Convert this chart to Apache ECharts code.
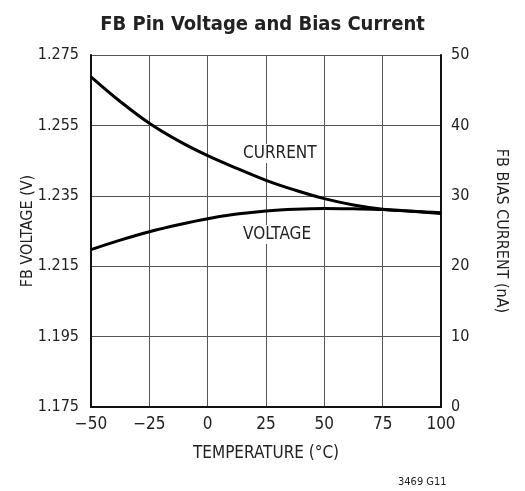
<!DOCTYPE html>
<html>
<head>
<meta charset="utf-8">
<script src="https://cdn.jsdelivr.net/npm/echarts@6/dist/echarts.min.js"></script>
<style>
  html, body { margin: 0; padding: 0; background: #fff; }
  #chart { width: 525px; height: 491px; }
</style>
</head>
<body>
<div id="chart"></div>
<script>
// temperature (°C)
const temps = [-50, -37.5, -25, -12.5, 0, 12.5, 25, 37.5, 50, 62.5, 75, 87.5, 100]
// FB pin voltage (V), left axis
const voltage = [1.2197, 1.2224, 1.2248, 1.2268, 1.2285, 1.2298, 1.2307, 1.2312, 1.2314, 1.2313, 1.2311, 1.2306, 1.2300]
// FB bias current (nA), right axis
const current = [46.9, 43.4, 40.3, 37.8, 35.7, 33.9, 32.2, 30.8, 29.6, 28.7, 28.1, 27.8, 27.6]

const font = "'DejaVu Sans Condensed', 'Liberation Sans Narrow', 'Liberation Sans', sans-serif"
const chart = echarts.init(document.getElementById('chart'))

const option = {
  animation: false,
  title: {
    text: 'FB Pin Voltage and Bias Current',
    left: 'center',
    top: 10,
    textStyle: { fontFamily: font, fontSize: 20, fontWeight: 'bold', color: '#222' }
  },
  grid: { left: 91, right: 84, top: 55, bottom: 84, containLabel: false },
  xAxis: {
    type: 'value',
    min: -50,
    max: 100,
    interval: 25,
    name: 'TEMPERATURE (°C)',
    nameLocation: 'middle',
    nameGap: 38,
    nameTextStyle: { fontFamily: font, fontSize: 17, color: '#222' },
    axisLine: { show: true, onZero: false, lineStyle: { color: '#111', width: 2 } },
    axisTick: { show: false },
    axisLabel: {
      fontFamily: font, fontSize: 17, color: '#222', margin: 9,
      formatter: v => String(v).replace('-', '\u2212')
    },
    splitLine: { show: true, lineStyle: { color: '#555', width: 1 } }
  },
  yAxis: [{
    type: 'value',
    min: 1.175,
    max: 1.275,
    interval: 0.02,
    name: 'FB VOLTAGE (V)',
    nameLocation: 'middle',
    nameGap: 55,
    nameRotate: 90,
    nameMoveOverlap: false,
    nameTextStyle: { fontFamily: font, fontSize: 16, color: '#222' },
    axisLine: { show: true, onZero: false, lineStyle: { color: '#111', width: 2 } },
    axisTick: { show: false },
    axisLabel: {
      fontFamily: font, fontSize: 16, color: '#222', margin: 12,
      formatter: v => v.toFixed(3)
    },
    splitLine: { show: true, lineStyle: { color: '#555', width: 1 } }
  }, {
    type: 'value',
    min: 0,
    max: 50,
    interval: 10,
    name: 'FB BIAS CURRENT (nA)',
    nameLocation: 'middle',
    nameGap: 52,
    nameRotate: -90,
    nameTextStyle: { fontFamily: font, fontSize: 16, color: '#222' },
    axisLine: { show: true, onZero: false, lineStyle: { color: '#111', width: 2 } },
    axisTick: { show: false },
    axisLabel: { fontFamily: font, fontSize: 16, color: '#222', margin: 10 },
    splitLine: { show: false }
  }],
  series: [{
    name: 'VOLTAGE',
    type: 'line',
    yAxisIndex: 0,
    smooth: 0.4,
    showSymbol: false,
    data: temps.map((t, i) => [t, voltage[i]]),
    lineStyle: { color: '#000', width: 3 }
  }, {
    name: 'CURRENT',
    type: 'line',
    yAxisIndex: 1,
    smooth: 0.4,
    showSymbol: false,
    data: temps.map((t, i) => [t, current[i]]),
    lineStyle: { color: '#000', width: 3 }
  }],
  graphic: [{
    type: 'text', left: 241, top: 144, z: 10,
    style: { text: 'CURRENT', font: '17px ' + font, fill: '#222', backgroundColor: '#fff', padding: [1, 2] }
  }, {
    type: 'text', left: 241, top: 225, z: 10,
    style: { text: 'VOLTAGE', font: '17px ' + font, fill: '#222', backgroundColor: '#fff', padding: [1, 2] }
  }, {
    type: 'text', left: 398, top: 477,
    style: { text: '3469 G11', font: '11px ' + font, fill: '#222' }
  }]
}
chart.setOption(option)
</script>
</body>
</html>
